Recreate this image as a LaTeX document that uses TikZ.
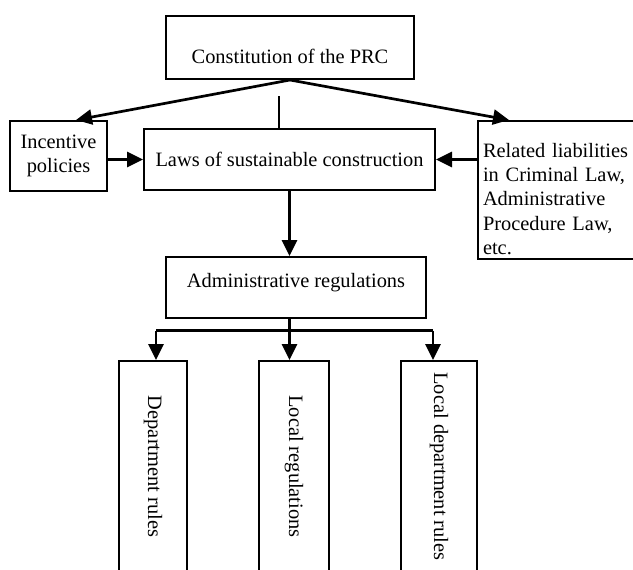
\documentclass[tikz,border=0pt]{standalone}
\usepackage{fontspec}
\setmainfont{Liberation Serif}
\usetikzlibrary{arrows.meta,positioning,calc}
\tikzset{
  lf/box/.style={
    draw=black,
    line width=2pt,
    fill=white,
    align=center,
    inner sep=0pt,
    font=\fontsize{20.4}{24.4}\selectfont
  },
  lf/tallbox/.style={lf/box, rotate=-90},
  lf/arrow/.style={-{Triangle[length=16pt,width=15pt]}, line width=2.7pt},
  lf/line/.style={line width=2.7pt}
}

\begin{document}
\begin{tikzpicture}[x=1pt,y=-1pt]
  \clip (0,0) rectangle (633,570);
  % top level
  \node[lf/box,minimum width=248pt,minimum height=63pt,text height=32pt,text depth=0pt] (constitution) at (290,47.5) {Constitution of the PRC};
  \node[lf/box,minimum width=97pt,minimum height=70pt] (incentive) at (58.5,156) {Incentive\\policies};
  \node[lf/box,minimum width=291pt,minimum height=61pt] (laws) at (289.5,159.5) {Laws of sustainable construction};
  \node[lf/box,anchor=north west,align=left,text width=180pt,inner xsep=5pt,minimum height=138pt] (related) at (477,120) {\rule{0pt}{32pt}Related liabilities\\in Criminal Law,\\Administrative\\Procedure Law,\\etc.};
  \node[lf/box,minimum width=260pt,minimum height=61pt,text depth=14pt] (admin) at (296,287.5) {Administrative regulations};
  % bottom level
  \node[lf/tallbox,minimum width=211pt,minimum height=68pt] (deptrules) at (153,466.5) {Department rules};
  \node[lf/tallbox,minimum width=211pt,minimum height=70pt] (localregs) at (294,466.5) {Local regulations};
  \node[lf/tallbox,minimum width=211pt,minimum height=76pt] (localdept) at (439,466.5) {Local department rules};

  \draw[lf/arrow] (constitution.south) -- ([xshift=67pt]incentive.north west);
  \draw[lf/arrow] (constitution.south) -- ([xshift=32pt]related.north west);
  \coordinate (stub) at (279,96);
  \draw[lf/line] (stub) -- (stub |- laws.north);
  \draw[lf/arrow] (incentive.east |- laws) -- (laws.west);
  \draw[lf/arrow] (related.west |- laws) -- (laws.east);
  \draw[lf/arrow] (laws.south) -- (laws.south |- admin.north);

  \coordinate (fork) at ($(laws.south |- admin.south)+(0,11.5)$);
  \coordinate (forkleft) at (156,0 |- fork);
  \coordinate (forkright) at (433,0 |- fork);
  \draw[lf/line] (laws.south |- admin.south) -- (fork);
  \draw[lf/line] (forkleft) -- (forkright);
  \draw[lf/arrow] (forkleft) -- (forkleft |- deptrules.west);
  \draw[lf/arrow] (fork) -- (fork |- localregs.west);
  \draw[lf/arrow] (forkright) -- (forkright |- localdept.west);
\end{tikzpicture}
\end{document}
